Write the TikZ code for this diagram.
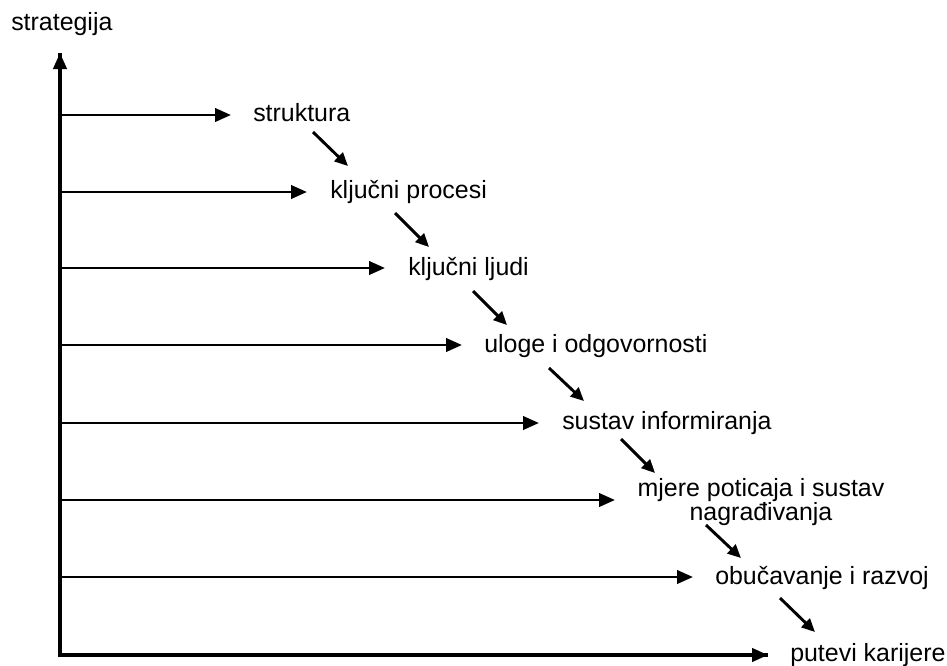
\documentclass[tikz,border=0pt]{standalone}
\usepackage{fontspec}
\setmainfont{Liberation Sans}
\usetikzlibrary{arrows.meta,calc}
\begin{document}
\begin{tikzpicture}[x=0.75pt,y=-0.75pt,
  lbl/.style={anchor=base west,inner sep=0pt,font=\fontsize{18.7}{15}\selectfont},
  axis/.style={line width=2.4pt,-{Triangle[length=12pt,width=10pt]}},
  harrow/.style={line width=2.2pt,-{Triangle[length=12pt,width=10pt]}},
  darrow/.style={line width=2.2pt,-{Triangle[length=10pt,width=9pt]}}]
\useasboundingbox (0,0) rectangle (947,665);
\node[lbl] (st) at (11,30) {strategija};
\coordinate (o) at (60,655);
\coordinate (top) at (60,53);
\coordinate (end) at (768,655);
\draw[line width=2.4pt,line join=miter] (top) -- (o) -- (end);
\draw[axis] (o) -- (top);
\draw[axis] (o) -- (end);
\node[lbl] (n1) at (253,121) {struktura};
\node[lbl] (n2) at (330,198) {ključni procesi};
\node[lbl] (n3) at (408,275) {ključni ljudi};
\node[lbl] (n4) at (484,352) {uloge i odgovornosti};
\node[lbl] (n5) at (562,429) {sustav informiranja};
\node[inner sep=0pt,align=center,font=\fontsize{18.7}{15}\selectfont] (n6) at (761,502) {mjere poticaja i sustav\\nagrađivanja};
\node[lbl] (n7) at (715,584) {obučavanje i razvoj};
\node[lbl] (n8) at (790,661) {putevi karijere};
% horizontal arrows
\foreach \y/\t in {115/231,192/307,268/385,345/462,423/539,500/615,577/693}{
  \coordinate (a\y) at (60,\y);
  \coordinate (b\y) at (\t,\y);
  \draw[harrow] (a\y) -- (b\y);
}
% diagonal arrows
\draw[darrow] ($(n1.base west)+(60,11)$) -- ($(n2.base west)+(18,-32)$);
\draw[darrow] ($(n2.base west)+(65,15)$) -- ($(n3.base west)+(21,-28)$);
\draw[darrow] ($(n3.base west)+(65,16)$) -- ($(n4.base west)+(23,-27)$);
\draw[darrow] ($(n4.base west)+(65,16)$) -- ($(n5.base west)+(22,-28)$);
\draw[darrow] ($(n5.base west)+(59,10)$) -- ($(n6.center)+(-106,-29)$);
\draw[darrow] ($(n6.center)+(-55,23)$) -- ($(n7.base west)+(26,-26)$);
\draw[darrow] ($(n7.base west)+(65,14)$) -- ($(n8.base west)+(25,-29)$);
\end{tikzpicture}
\end{document}
